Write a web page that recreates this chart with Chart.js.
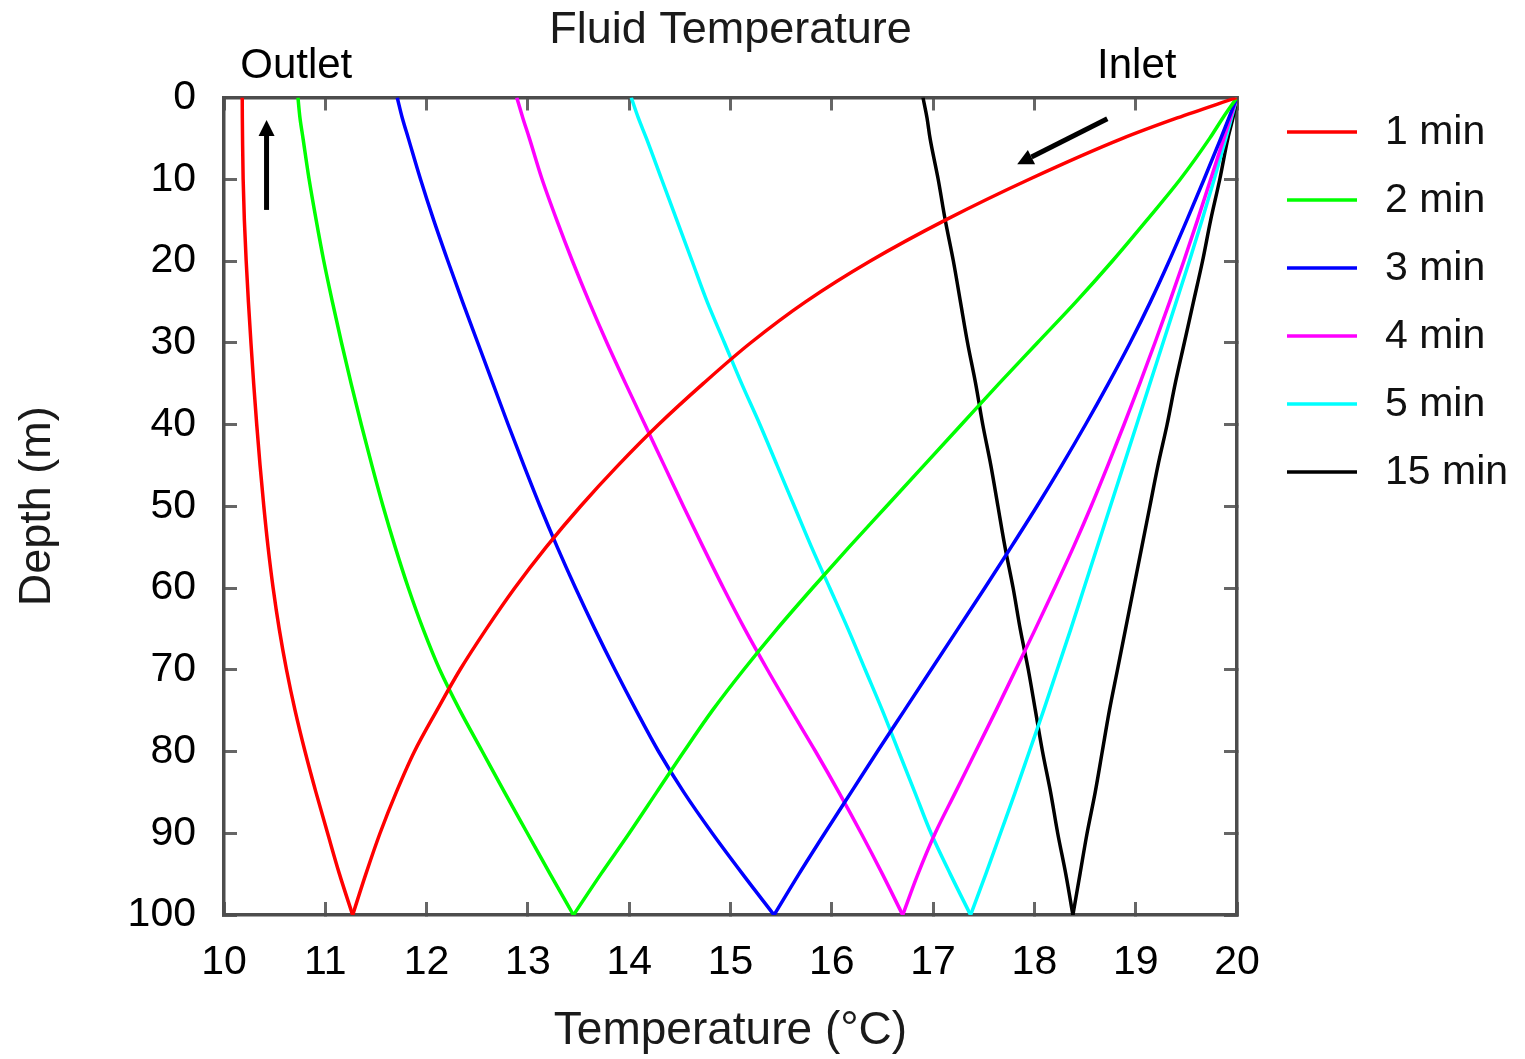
<!DOCTYPE html>
<html>
<head>
<meta charset="utf-8">
<title>Fluid Temperature</title>
<script src="https://cdn.jsdelivr.net/npm/chart.js@4.4.1/dist/chart.umd.min.js"></script>
<style>
  html, body { margin: 0; padding: 0; background: #fff; }
  #wrap { position: relative; width: 1525px; height: 1059px; }
</style>
</head>
<body>
<div id="wrap"><canvas id="profile"></canvas></div>
<script>
// depth stations along the borehole (m)
var depths = [0, 2.5, 5, 10, 15, 20, 25, 30, 35, 40, 45, 50, 55, 60, 65, 70, 75, 80, 85, 90, 95, 100];
var labels = ['1 min', '2 min', '3 min', '4 min', '5 min', '15 min'];

// fluid temperature (°C) on the way down the inlet leg
var down1  = [20, 19.41, 18.87, 17.95, 17.12, 16.38, 15.74, 15.20, 14.73, 14.29, 13.89, 13.52, 13.18, 12.87, 12.59, 12.33, 12.10, 11.88, 11.70, 11.54, 11.40, 11.27];
var down2  = [20, 19.86, 19.73, 19.44, 19.11, 18.77, 18.41, 18.03, 17.65, 17.28, 16.91, 16.54, 16.17, 15.81, 15.46, 15.13, 14.82, 14.54, 14.27, 14.00, 13.72, 13.45];
var down3  = [20, 19.92, 19.84, 19.675, 19.505, 19.33, 19.145, 18.945, 18.73, 18.505, 18.27, 18.025, 17.77, 17.51, 17.245, 16.98, 16.715, 16.45, 16.19, 15.93, 15.675, 15.43];
var down4  = [20, 19.935, 19.87, 19.74, 19.61, 19.475, 19.335, 19.19, 19.04, 18.885, 18.725, 18.56, 18.385, 18.20, 18.01, 17.815, 17.62, 17.42, 17.22, 17.02, 16.85, 16.70];
var down5  = [20, 19.945, 19.89, 19.775, 19.655, 19.53, 19.40, 19.27, 19.14, 19.01, 18.88, 18.75, 18.62, 18.49, 18.36, 18.225, 18.09, 17.95, 17.81, 17.665, 17.52, 17.37];
var down15 = [20, 19.96, 19.91, 19.83, 19.74, 19.66, 19.57, 19.48, 19.39, 19.31, 19.22, 19.14, 19.06, 18.98, 18.90, 18.82, 18.74, 18.67, 18.60, 18.52, 18.45, 18.38];

// fluid temperature (°C) on the way back up the outlet leg
var up1  = [10.18, 10.181, 10.183, 10.189, 10.201, 10.219, 10.241, 10.266, 10.293, 10.323, 10.356, 10.393, 10.435, 10.485, 10.545, 10.617, 10.702, 10.80, 10.908, 11.023, 11.14, 11.27];
var up2  = [10.73, 10.75, 10.78, 10.84, 10.91, 10.985, 11.07, 11.16, 11.255, 11.355, 11.46, 11.57, 11.69, 11.82, 11.965, 12.13, 12.33, 12.55, 12.77, 12.995, 13.22, 13.45];
var up3  = [11.71, 11.76, 11.82, 11.94, 12.07, 12.21, 12.355, 12.505, 12.655, 12.805, 12.96, 13.12, 13.29, 13.47, 13.66, 13.86, 14.07, 14.29, 14.54, 14.82, 15.12, 15.43];
var up4  = [12.89, 12.95, 13.015, 13.14, 13.285, 13.44, 13.605, 13.78, 13.965, 14.155, 14.345, 14.535, 14.73, 14.93, 15.14, 15.365, 15.60, 15.84, 16.07, 16.29, 16.50, 16.70];
var up5  = [14.02, 14.09, 14.17, 14.32, 14.47, 14.62, 14.77, 14.94, 15.11, 15.29, 15.46, 15.63, 15.80, 15.98, 16.16, 16.33, 16.50, 16.66, 16.82, 16.98, 17.17, 17.37];
var up15 = [16.90, 16.94, 16.97, 17.05, 17.12, 17.20, 17.27, 17.34, 17.42, 17.49, 17.57, 17.64, 17.71, 17.79, 17.86, 17.94, 18.01, 18.08, 18.16, 18.23, 18.31, 18.38];

var colors = ['#ff0000', '#00ff00', '#0000ff', '#ff00ff', '#00ffff', '#000000'];
var FONT = '"Liberation Sans", Arial, Helvetica, sans-serif';

function leg(temps) {
  return depths.map(function(d, i) { return {x: temps[i], y: d}; });
}

// each run is drawn as two legs meeting at the bottom of the U-tube,
// smoothed along depth so the bottom turn stays sharp
var downs = [down1, down2, down3, down4, down5, down15];
var ups = [up1, up2, up3, up4, up5, up15];
var datasets = [];
labels.forEach(function(lab, i) {
  [downs[i], ups[i]].forEach(function(temps) {
    datasets.push({
      label: lab,
      data: leg(temps),
      indexAxis: 'y',
      cubicInterpolationMode: 'monotone',
      borderColor: colors[i],
      backgroundColor: colors[i],
      borderWidth: 3.5,
      pointRadius: 0,
      showLine: true,
      fill: false
    });
  });
});

function arrow(ctx, x0, y0, x1, y1) {
  var a = Math.atan2(y1 - y0, x1 - x0), len = 16, half = 8;
  var bx = x1 - len * Math.cos(a), by = y1 - len * Math.sin(a);
  ctx.lineWidth = 5;
  ctx.beginPath(); ctx.moveTo(x0, y0); ctx.lineTo(bx, by); ctx.stroke();
  ctx.beginPath();
  ctx.moveTo(x1, y1);
  ctx.lineTo(bx + half * Math.sin(a), by - half * Math.cos(a));
  ctx.lineTo(bx - half * Math.sin(a), by + half * Math.cos(a));
  ctx.closePath(); ctx.fill();
}

// Outlet / Inlet notes with flow arrows, plus the key on the right
var notes = {
  id: 'notes',
  afterDraw: function(chart) {
    var ctx = chart.ctx, area = chart.chartArea;
    var xs = chart.scales.x, ys = chart.scales.y;
    ctx.save();
    ctx.fillStyle = '#000';
    ctx.strokeStyle = '#000';
    ctx.font = '42px ' + FONT;
    ctx.textBaseline = 'middle';
    ctx.textAlign = 'left';
    ctx.fillText('Outlet', xs.getPixelForValue(10.16), area.top - 31);
    ctx.textAlign = 'center';
    ctx.fillText('Inlet', xs.getPixelForValue(19.01), area.top - 31);

    arrow(ctx, xs.getPixelForValue(10.42), ys.getPixelForValue(13.75),
               xs.getPixelForValue(10.42), ys.getPixelForValue(2.75));
    arrow(ctx, xs.getPixelForValue(18.72), ys.getPixelForValue(2.6),
               xs.getPixelForValue(17.83), ys.getPixelForValue(8.17));

    ctx.font = '41px ' + FONT;
    ctx.textAlign = 'left';
    labels.forEach(function(lab, i) {
      var y = area.top + 34.5 + i * 68;
      ctx.strokeStyle = colors[i];
      ctx.lineWidth = 3.5;
      ctx.beginPath();
      ctx.moveTo(area.right + 50, y);
      ctx.lineTo(area.right + 120, y);
      ctx.stroke();
      ctx.fillStyle = '#111';
      ctx.fillText(lab, area.right + 148, y + 1);
    });
    ctx.restore();
  }
};

var tickGrid = { drawOnChartArea: false, tickLength: -13, tickColor: '#666', tickWidth: 3 };
var frame = { color: '#4d4d4d', width: 3.5 };

Chart.defaults.font.family = FONT;

new Chart(document.getElementById('profile'), {
  type: 'scatter',
  data: { datasets: datasets },
  options: {
    responsive: true,
    maintainAspectRatio: false,
    animation: false,
    layout: { padding: 0 },
    plugins: {
      legend: { display: false },
      tooltip: { enabled: false },
      title: {
        display: true,
        text: 'Fluid Temperature',
        fullSize: false,
        color: '#1a1a1a',
        font: { size: 45, weight: 'normal' },
        padding: { top: 4, bottom: 10 }
      }
    },
    scales: {
      x: {
        type: 'linear', position: 'bottom', min: 10, max: 20,
        ticks: { stepSize: 1, padding: 36, color: '#000', font: { size: 41 }, maxRotation: 0 },
        grid: tickGrid, border: frame,
        title: { display: true, text: 'Temperature (°C)', color: '#1a1a1a', font: { size: 46 }, padding: { top: 0, bottom: 0 } },
        afterFit: function(s) { s.height = 144; }
      },
      x2: {
        type: 'linear', position: 'top', min: 10, max: 20,
        ticks: { stepSize: 1, display: false },
        grid: tickGrid, border: frame,
        afterFit: function(s) { s.height = 29.5; }
      },
      y: {
        type: 'linear', position: 'left', reverse: true, min: 0, max: 100,
        ticks: { stepSize: 10, padding: 41, color: '#000', font: { size: 41 } },
        grid: tickGrid, border: frame,
        title: { display: true, text: 'Depth (m)', color: '#1a1a1a', font: { size: 45 }, padding: { top: 11, bottom: 0 } },
        afterFit: function(s) { s.width = 224; }
      },
      y2: {
        type: 'linear', position: 'right', reverse: true, min: 0, max: 100,
        ticks: { stepSize: 10, display: false },
        grid: tickGrid, border: frame,
        afterFit: function(s) { s.width = 288; }
      }
    }
  },
  plugins: [notes]
});
</script>
</body>
</html>
